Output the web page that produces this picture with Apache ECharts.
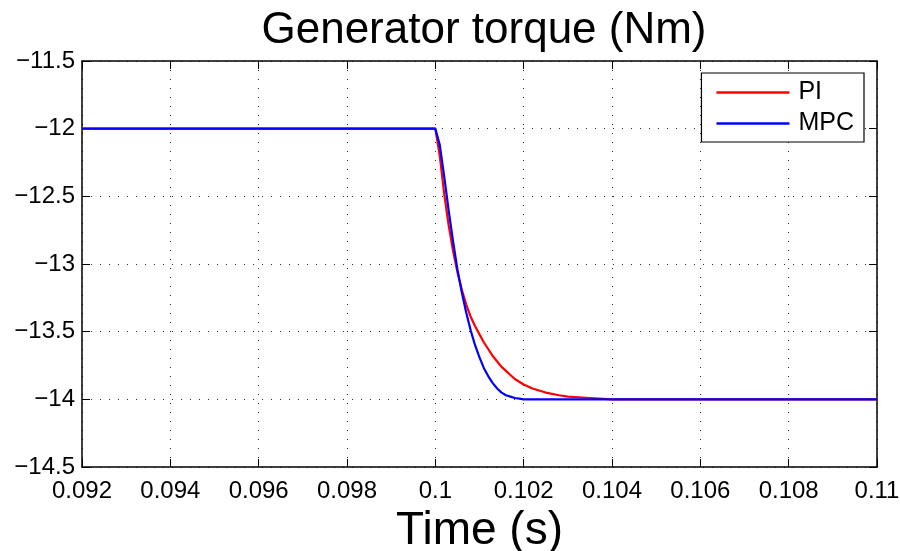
<!DOCTYPE html>
<html>
<head>
<meta charset="utf-8">
<script src="https://cdn.jsdelivr.net/npm/echarts@6/dist/echarts.min.js"></script>
<style>
  html, body { margin: 0; padding: 0; background: #fff; }
  #chart { width: 900px; height: 551px; }
</style>
</head>
<body>
<div id="chart"></div>
<script>
  // time samples (s)
  var piTime = [0.092, 0.1, 0.1001, 0.1002, 0.1003, 0.1004, 0.1005, 0.1006, 0.1007, 0.1008, 0.1009, 0.101,
    0.1011, 0.1012, 0.1013, 0.1014, 0.1015, 0.1016, 0.1017, 0.1018, 0.1019, 0.102, 0.1022, 0.1025, 0.1028,
    0.103, 0.1035, 0.104, 0.11]
  var piTorque = [-12, -12, -12.2, -12.48, -12.71, -12.9, -13.06, -13.19, -13.3, -13.39, -13.46, -13.52,
    -13.58, -13.63, -13.68, -13.72, -13.76, -13.79, -13.82, -13.85, -13.87, -13.89, -13.92, -13.95, -13.97,
    -13.98, -13.99, -14, -14]

  var mpcTime = [0.092, 0.1, 0.1001, 0.1002, 0.1003, 0.1004, 0.1005, 0.1006, 0.1007, 0.1008, 0.1009, 0.101,
    0.1011, 0.1012, 0.1013, 0.1014, 0.1015, 0.1016, 0.1017, 0.1018, 0.1019, 0.102, 0.1022, 0.11]
  var mpcTorque = [-12, -12, -12.12, -12.35, -12.6, -12.83, -13.04, -13.21, -13.36, -13.49, -13.6, -13.69,
    -13.77, -13.83, -13.88, -13.92, -13.95, -13.97, -13.98, -13.99, -13.995, -14, -14, -14]

  var xTicks = [0.092, 0.094, 0.096, 0.098, 0.1, 0.102, 0.104, 0.106, 0.108, 0.11]
  var yTicks = [-11.5, -12, -12.5, -13, -13.5, -14, -14.5]

  function pairs(xs, ys) {
    return xs.map(function (x, i) { return [x, ys[i]] })
  }
  function fmt(v) {
    return String(+v.toFixed(4)).replace('-', '\u2212')
  }

  var font = 'Liberation Sans, Arial, Helvetica, sans-serif'
  var dotted = { show: true, lineStyle: { color: '#333', type: [1, 8], width: 1 } }
  var frame = { show: true, lineStyle: { color: '#000', width: 1.5 } }
  var ticks = { show: true, inside: true, length: 8, lineStyle: { color: '#000' } }

  var chart = echarts.init(document.getElementById('chart'), null, { renderer: 'canvas' })
  chart.setOption({
    backgroundColor: '#fff',
    animation: false,
    title: {
      text: 'Generator torque (Nm)',
      left: 479,
      textAlign: 'center',
      top: 4,
      textStyle: { fontFamily: font, fontSize: 44, fontWeight: 'normal', color: '#000' }
    },
    grid: { left: 82, right: 23, top: 61, bottom: 84, outerBoundsMode: 'none' },
    legend: {
      right: 36,
      top: 73,
      orient: 'vertical',
      backgroundColor: '#fff',
      borderColor: '#000',
      borderWidth: 1.2,
      borderRadius: 0,
      padding: [7, 10, 6, 15],
      itemWidth: 73,
      itemHeight: 2.5,
      itemGap: 6,
      icon: 'rect',
      textStyle: { fontFamily: font, fontSize: 25, color: '#000', padding: [0, 0, 0, 4] },
      data: ['PI', 'MPC']
    },
    xAxis: [{
      type: 'value',
      min: 0.092,
      max: 0.11,
      interval: 0.002,
      name: 'Time (s)',
      nameLocation: 'middle',
      nameGap: 32,
      nameTextStyle: { fontFamily: font, fontSize: 46, color: '#000', verticalAlign: 'top' },
      axisLine: frame,
      axisTick: ticks,
      axisLabel: { fontFamily: font, fontSize: 24, color: '#000', margin: 12, formatter: fmt },
      splitLine: dotted
    }, {
      type: 'value',
      position: 'top',
      min: 0.092,
      max: 0.11,
      interval: 0.002,
      axisLine: frame,
      axisTick: ticks,
      axisLabel: { show: false },
      splitLine: { show: false }
    }],
    yAxis: [{
      type: 'value',
      min: -14.5,
      max: -11.5,
      interval: 0.5,
      axisLine: frame,
      axisTick: ticks,
      axisLabel: { fontFamily: font, fontSize: 24, color: '#000', margin: 7, formatter: fmt },
      splitLine: dotted
    }, {
      type: 'value',
      position: 'right',
      min: -14.5,
      max: -11.5,
      interval: 0.5,
      axisLine: frame,
      axisTick: ticks,
      axisLabel: { show: false },
      splitLine: { show: false }
    }],
    series: [{
      name: 'PI',
      type: 'line',
      showSymbol: false,
      color: '#ff0000',
      lineStyle: { width: 2.2 },
      data: pairs(piTime, piTorque)
    }, {
      name: 'MPC',
      type: 'line',
      showSymbol: false,
      color: '#0000ff',
      lineStyle: { width: 2.2 },
      data: pairs(mpcTime, mpcTorque)
    }]
  })
</script>
</body>
</html>
